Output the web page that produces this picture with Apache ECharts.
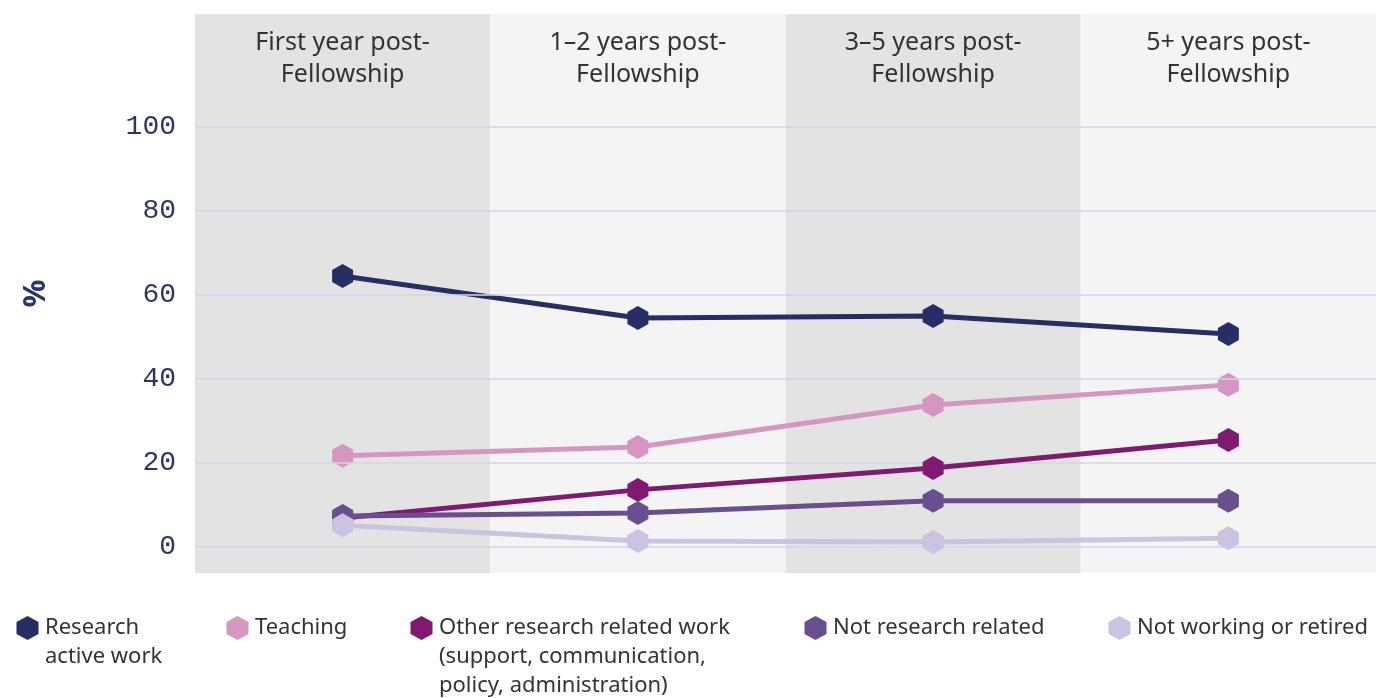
<!DOCTYPE html>
<html>
<head>
<meta charset="utf-8">
<script src="https://cdn.jsdelivr.net/npm/echarts@6/dist/echarts.min.js"></script>
<style>
  html, body { margin: 0; padding: 0; background: #fff; }
  #chart { width: 1376px; height: 698px; }
</style>
</head>
<body>
<div id="chart"></div>
<script>
const categories = [
  'First year post-\nFellowship',
  '1–2 years post-\nFellowship',
  '3–5 years post-\nFellowship',
  '5+ years post-\nFellowship'
];
const yTicks = [0, 20, 40, 60, 80, 100];

const researchActive = [64.5, 54.5, 55, 50.7];
const teaching = [21.7, 23.8, 33.8, 38.6];
const otherResearch = [6.9, 13.6, 18.8, 25.5];
const notResearch = [7.4, 8.1, 11, 11];
const notWorking = [5.2, 1.4, 1.2, 2.1];

const seriesNames = [
  'Research\nactive work',
  'Teaching',
  'Other research related work\n(support, communication,\npolicy, administration)',
  'Not research related',
  'Not working or retired'
];
const seriesColors = ['#252f66', '#d597c2', '#801a70', '#6a4f8e', '#cbc3e2'];
const seriesData = [researchActive, teaching, otherResearch, notResearch, notWorking];
const legendLefts = [15, 225, 409, 803, 1107];

// pointy-top hexagon
const hexagon = 'path://M0,-1 L0.866,-0.5 L0.866,0.5 L0,1 L-0.866,0.5 L-0.866,-0.5 Z';
const navy = '#2b3568';
const lineH = 29;

// legend icon: hexagon lifted to sit beside the first text line,
// inside a fixed invisible 25x87 box so every icon keeps the same scale
function legendIcon(lineCount) {
  const cy = -lineH / 2 * (lineCount - 1);
  const p = (x, y) => x.toFixed(2) + ',' + (cy + y).toFixed(2);
  return 'path://M-12.5,-43.5 L-12.5,-43.5 M12.5,43.5 L12.5,43.5 ' +
    'M' + p(0, -12) + ' L' + p(11, -6) + ' L' + p(11, 6) + ' L' + p(0, 12) +
    ' L' + p(-11, 6) + ' L' + p(-11, -6) + ' Z';
}

const chart = echarts.init(document.getElementById('chart'));

const lines = seriesNames.map((name, i) => ({
  name: name,
  type: 'line',
  data: seriesData[i],
  symbol: hexagon,
  symbolSize: [21, 24],
  showSymbol: true,
  color: seriesColors[i],
  lineStyle: { width: 5, color: seriesColors[i] },
  itemStyle: { color: seriesColors[i] },
  emphasis: { disabled: true },
  z: 3 + i
}));

const legends = seriesNames.map((name, i) => {
  const n = name.split('\n').length;
  return {
    left: legendLefts[i],
    top: 584.5 + lineH / 2 * (n - 1),
    padding: 0,
    itemWidth: 25,
    itemHeight: 87,
    selectedMode: false,
    itemStyle: { borderWidth: 0 },
    textStyle: { color: '#333', fontFamily: 'Noto Sans', fontSize: 22, lineHeight: lineH },
    data: [{ name: name, icon: legendIcon(n) }]
  };
});

const option = {
  animation: false,
  grid: { left: 195, right: 0, top: 14, bottom: 125 },
  xAxis: {
    type: 'category',
    position: 'top',
    data: categories,
    boundaryGap: true,
    axisLine: { show: false },
    axisTick: { show: false },
    axisLabel: {
      inside: true,
      margin: 13,
      color: '#333',
      fontFamily: 'Noto Sans',
      fontSize: 25,
      lineHeight: 32,
      interval: 0
    },
    splitLine: { show: false },
    splitArea: {
      show: true,
      interval: 0,
      areaStyle: { color: ['#e3e3e3', '#f4f4f4'] }
    }
  },
  yAxis: {
    type: 'value',
    min: -6.19,
    max: 126.9,
    name: '%',
    nameLocation: 'middle',
    nameRotate: 90,
    nameGap: 143,
    nameTextStyle: { color: navy, fontSize: 31, fontWeight: 'bold', fontFamily: 'Noto Sans' },
    axisLine: { show: false },
    axisTick: { show: false },
    splitLine: { show: false },
    axisLabel: {
      customValues: yTicks,
      margin: 19,
      color: navy,
      fontFamily: 'Liberation Mono',
      fontSize: 28
    }
  },
  legend: legends,
  series: [
    {
      name: 'gridlines',
      type: 'line',
      data: [],
      silent: true,
      z: 1,
      markLine: {
        silent: true,
        symbol: 'none',
        label: { show: false },
        lineStyle: { color: '#d6d4e7', width: 1.5, type: 'solid' },
        data: yTicks.map((v) => ({ yAxis: v }))
      }
    }
  ].concat(lines)
};

chart.setOption(option);
</script>
</body>
</html>
